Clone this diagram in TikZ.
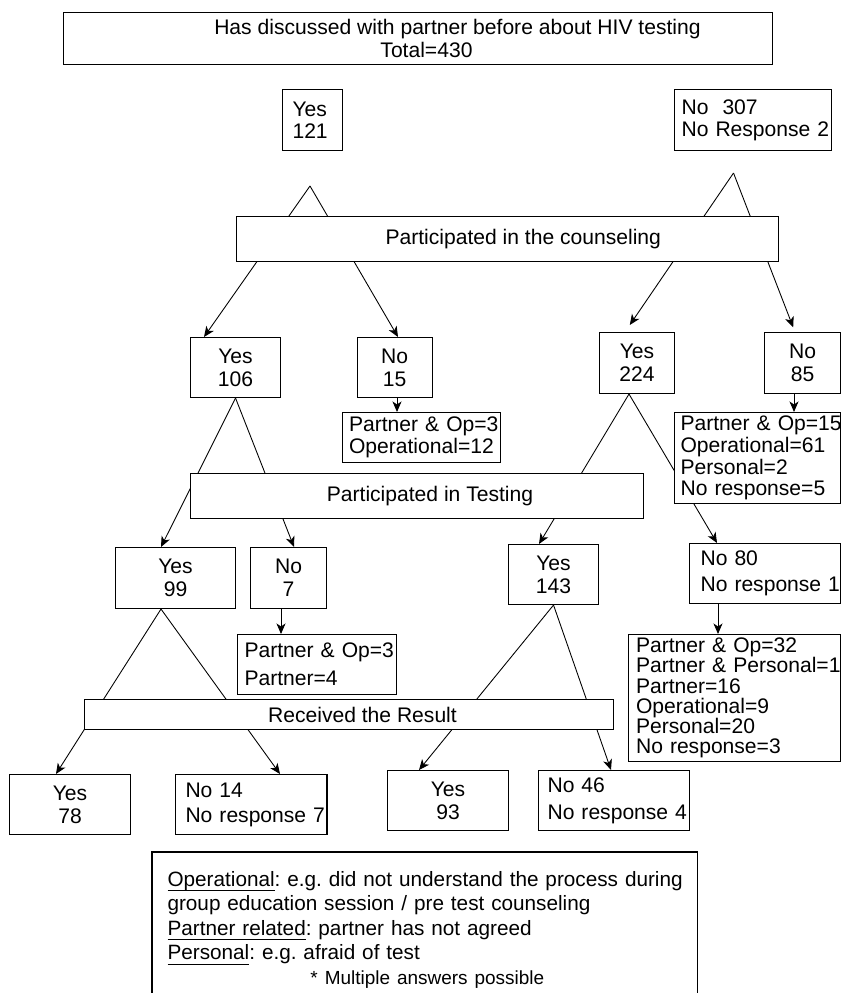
\documentclass[tikz,border=0pt]{standalone}
\usepackage{fontspec}
\setmainfont{Liberation Sans}
\usetikzlibrary{arrows.meta,backgrounds}
\newcommand{\indentby}[1]{\leftskip=#1\rightskip=-1cm plus 1fil\relax}
\newcommand{\keyword}[1]{\leavevmode\setbox0=\hbox{#1}\rlap{\rule[-2.6pt]{\wd0}{0.5pt}}\box0}
\frenchspacing

\begin{document}
\begin{tikzpicture}[x=0.02cm, y=-0.02cm]
% STYLES
\tikzset{%
    box/.style={%
draw,
fill=white,
rectangle,
line width=0.6pt,
inner sep=0pt,
anchor=north west,
font=\fontsize{12}{12.4}\selectfont
                          },
    answer/.style={box, align=center},
    reason/.style={box, align=left, text width=#1},
    split/.style={line width=0.5pt, -{Stealth[length=2.1mm, width=1.8mm, inset=0.6mm]}}
             }
\useasboundingbox (0,0) rectangle (841,993);

% Question
\node [answer, minimum width=14.18cm, minimum height=1.04cm] (question) at (63,12) {\hspace*{1.58cm}Has discussed with partner before about HIV testing\\[1pt]\hspace*{0.34cm}Total=430};
\node [reason=1.21cm, minimum height=1.22cm] (yes121) at (281.5,89) {\indentby{0.21cm}Yes\\121\par};
\node [reason=3.15cm, minimum height=1.22cm] (no307) at (673.5,89) {\indentby{0.15cm}No\ \ 307\\No Response 2\par};

% Counseling
\node [answer, minimum width=10.85cm, minimum height=0.9cm] (counseling) at (236,216) {\hspace*{0.62cm}Participated in the counseling};
\node [answer, minimum width=1.8cm, minimum height=1.2cm] (yes106) at (190,337) {Yes\\[0.5pt]106};
\node [answer, minimum width=1.5cm, minimum height=1.2cm] (no15) at (356.6,337) {No\\[0.5pt]15};
\node [answer, minimum width=1.5cm, minimum height=1.22cm] (yes224) at (599,332) {Yes\\[0.5pt]224};
\node [answer, minimum width=1.52cm, minimum height=1.22cm] (no85) at (764,332) {No\\[0.5pt]85};
\node [reason=3.17cm, minimum height=1cm] (opNo15) at (341.5,412) {\indentby{0.14cm}Partner \& Op=3\\Operational=12\par};
\node [reason=3.33cm, minimum height=1.82cm] (opNo85) at (673.5,412) {\indentby{0.13cm}Partner \& Op=15\\Operational=61\\Personal=2\\No response=5\par};

% Testing
\node [answer, minimum width=9.06cm, minimum height=0.9cm] (testing) at (190,473) {\hspace*{0.52cm}Participated in Testing};
\node [answer, minimum width=2.4cm, minimum height=1.22cm] (yes99) at (115,547) {Yes\\[0.5pt]99};
\node [answer, minimum width=1.52cm, minimum height=1.22cm] (no7) at (250,547) {No\\[0.5pt]7};
\node [answer, minimum width=1.8cm, minimum height=1.2cm] (yes143) at (508,544) {Yes\\[0.5pt]143};
\node [reason=3.02cm, minimum height=1.2cm] (no80) at (689,543) {\indentby{0.22cm}No 80\\[2.4pt]No response 1\par};
\node [reason=3.19cm, minimum height=1.2cm] (opNo7) at (236.5,634) {\indentby{0.15cm}Partner \& Op=3\\[3.5pt]Partner=4\par};
\node [reason=4.24cm, minimum height=2.54cm, font=\fontsize{12}{11.5}\selectfont] (opNo80) at (628,634) {\indentby{0.15cm}Partner \& Op=32\\Partner \& Personal=1\\Partner=16\\Operational=9\\Personal=20\\No response=3\par};

% Result
\node [answer, minimum width=10.58cm, minimum height=0.6cm] (result) at (84,699) {\hspace*{0.54cm}Received the Result};
\node [answer, minimum width=2.42cm, minimum height=1.2cm] (yes78) at (9,774) {Yes\\[0.5pt]78};
\node [reason=3.03cm, minimum height=1.2cm] (no14) at (175,774) {\indentby{0.2cm}No 14\\[1.8pt]No response 7\par};
\node [answer, minimum width=2.42cm, minimum height=1.2cm] (yes93) at (387,770) {Yes\\[0.5pt]93};
\node [reason=3.02cm, minimum height=1.2cm] (no46) at (538,770) {\indentby{0.18cm}No 46\\[2.9pt]No response 4\par};

% Key
\node [box, draw=none, fill=none, align=left, text width=10.9cm, inner ysep=0.38cm, font=\fontsize{11.8}{13.9}\selectfont] (key) at (152,852) {\indentby{0.3cm}\keyword{Operational}: e.g. did not understand the process during\\group education session / pre test counseling\\\keyword{Partner related}: partner has not agreed\\\keyword{Personal}: e.g. afraid of test\\\hspace*{2.86cm}{\fontsize{10.8}{13}\selectfont * Multiple answers possible}\par};
\draw [line width=0.6pt] ([yshift=-1cm]key.south west) -- (key.north west) -- (key.north east) -- ([yshift=-1cm]key.south east);

% Draw the splits behind the boxes
\begin{scope}[on background layer]
\coordinate (forkYes) at (310,186);
\coordinate (forkNo) at (733.5,173);
\path[split]
(forkYes) edge (yes106.north -| 204,0)
(forkYes) edge (no15.north -| 398,0)
(forkNo) edge[shorten >=0.17cm] (yes224.north -| 625,0)
(forkNo) edge[shorten >=0.1cm] (no85.north -| 795,0)
(yes106.south) edge (yes99.north -| 161,0)
(yes106.south) edge (no7.north -| 294,0)
(yes224.south -| 629,0) edge (yes143.north -| 539,0)
(yes224.south -| 629,0) edge (no80.north -| 717,0)
(yes99.south -| 161,0) edge (yes78.north -| 56,0)
(yes99.south -| 161,0) edge (no14.north -| 280,0)
(yes143.south) edge (yes93.north -| 419,0)
(yes143.south) edge (no46.north -| 611,0)
(no15.south -| 397,0) edge (opNo15.north -| 397,0)
(no85.south -| 794,0) edge (opNo85.north -| 794,0)
(no7.south -| 281,0) edge (opNo7.north -| 281,0)
(no80.south -| 718,0) edge (opNo80.north -| 718,0);
\end{scope}
\end{tikzpicture}
\end{document}
